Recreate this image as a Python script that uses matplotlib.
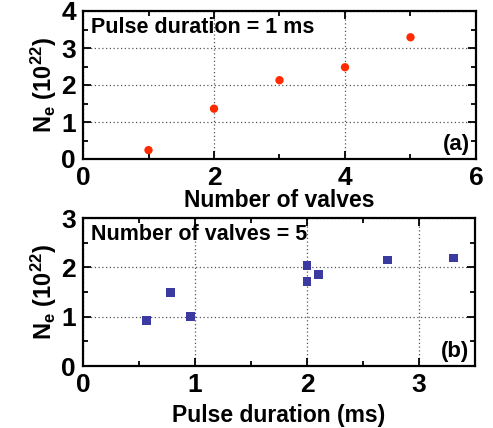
import matplotlib
matplotlib.use("Agg")
import matplotlib.pyplot as plt
from matplotlib.ticker import MultipleLocator

valves = [1, 2, 3, 4, 5]
ne_valves = [0.24, 1.36, 2.13, 2.48, 3.29]

pulse = [0.57, 0.78, 0.96, 2.0, 2.0, 2.1, 2.72, 3.31]
ne_pulse = [0.92, 1.49, 1.0, 2.04, 1.72, 1.85, 2.15, 2.19]

plt.rcParams['font.family'] = ['Liberation Sans', 'DejaVu Sans']
plt.rcParams['font.weight'] = 'bold'
plt.rcParams['mathtext.default'] = 'regular'

fig = plt.figure(figsize=(4.93, 4.28), dpi=100)
W, H = 493, 428
ax1 = fig.add_axes([83 / W, 1 - 159 / H, (476 - 83) / W, (159 - 11) / H])
ax2 = fig.add_axes([83 / W, 1 - 366 / H, (475 - 83) / W, (366 - 218) / H])

ax1.scatter(valves, ne_valves, s=36, color='#ff2a00', edgecolors='none', zorder=3)
ax2.scatter(pulse, ne_pulse, s=40, marker='s', color='#3a3aa0', edgecolors='none', zorder=3)

ax1.set_xlim(0, 6)
ax1.set_ylim(0, 4)
ax1.xaxis.set_major_locator(MultipleLocator(2))
ax1.xaxis.set_minor_locator(MultipleLocator(1))
ax1.yaxis.set_major_locator(MultipleLocator(1))
ax1.yaxis.set_minor_locator(MultipleLocator(0.5))

ax2.set_xlim(0, 3.5)
ax2.set_ylim(0, 3)
ax2.xaxis.set_major_locator(MultipleLocator(1))
ax2.xaxis.set_minor_locator(MultipleLocator(0.5))
ax2.yaxis.set_major_locator(MultipleLocator(1))
ax2.yaxis.set_minor_locator(MultipleLocator(0.5))

ylab = r'N$_{e}$ (10$^{22}$)'
for ax in (ax1, ax2):
    ax.grid(True, which='major', linestyle=(0, (1, 2)), color='#555555', linewidth=0.9)
    ax.tick_params(which='both', direction='in', top=True, right=True, width=1.3)
    ax.tick_params(which='major', length=6, labelsize=19)
    ax.tick_params(axis='x', which='major', pad=5)
    ax.tick_params(axis='y', which='major', pad=5)
    ax.tick_params(which='minor', length=3.5)
    for sp in ax.spines.values():
        sp.set_linewidth(1.6)
    for lab in ax.get_xticklabels() + ax.get_yticklabels():
        lab.set_fontweight('bold')
    ax.set_ylabel(ylab, fontsize=17, fontweight='bold', labelpad=2)

ax1.set_xlabel('Number of valves', fontsize=16.5, fontweight='bold', labelpad=-1)
ax2.set_xlabel('Pulse duration (ms)', fontsize=16.5, fontweight='bold', labelpad=5)

ax1.text(0.02, 0.96, 'Pulse duration = 1 ms', transform=ax1.transAxes,
         fontsize=15.5, fontweight='bold', va='top', ha='left')
ax2.text(0.02, 0.96, 'Number of valves = 5', transform=ax2.transAxes,
         fontsize=15.5, fontweight='bold', va='top', ha='left')
ax1.text(0.985, 0.03, '(a)', transform=ax1.transAxes,
         fontsize=16, fontweight='bold', va='bottom', ha='right')
ax2.text(0.985, 0.03, '(b)', transform=ax2.transAxes,
         fontsize=16, fontweight='bold', va='bottom', ha='right')

fig.savefig('out.png', dpi=100)
